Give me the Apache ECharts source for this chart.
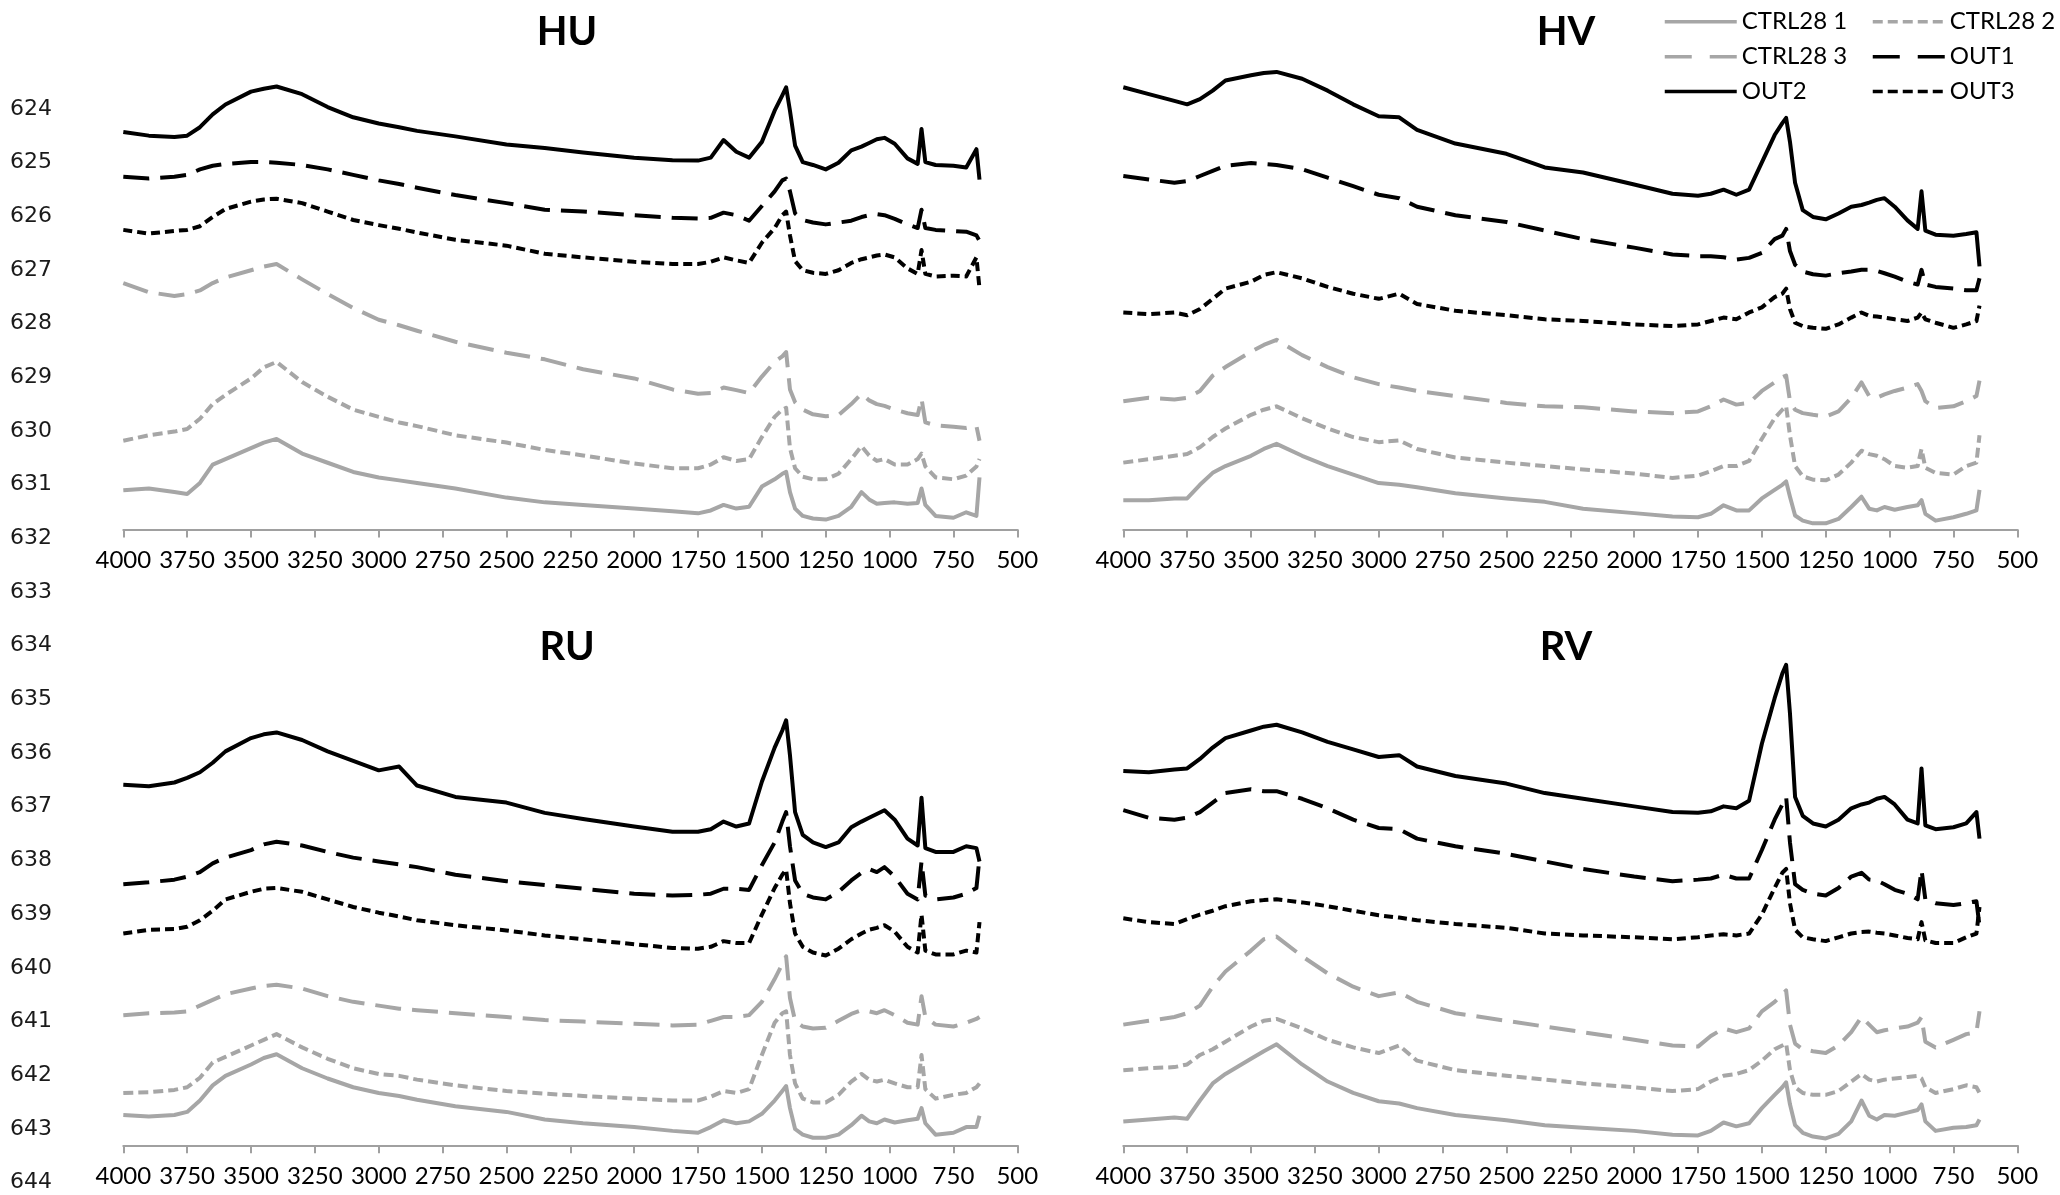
<!DOCTYPE html>
<html><head><meta charset="utf-8">
<script src="https://cdn.jsdelivr.net/npm/echarts@6/dist/echarts.min.js"></script>
<style>html,body{margin:0;padding:0;background:#fff}#c{width:2060px;height:1195px}</style>
</head><body><div id="c"></div>
<script>
// ---- data (absorbance, arbitrary offset units per panel) ----
const WAVENUMBERS = [4000,3900,3800,3750,3700,3650,3600,3500,3450,3400,3300,3200,3100,3000,2920,2850,2700,2500,2350,2200,2000,1850,1750,1700,1650,1600,1550,1500,1450,1420,1405,1390,1370,1340,1300,1250,1200,1150,1110,1080,1050,1020,980,930,890,875,860,820,750,700,660,648];
const X_MIN = 500, X_MAX = 4000, X_STEP = 250;
const ROW_LABELS = ['624','625','626','627','628','629','630','631','632','633','634','635','636','637','638','639','640','641','642','643','644'];
const PANEL_TITLES = ['HU','HV','RU','RV'];
const SERIES_NAMES = ['CTRL28 1','CTRL28 2','CTRL28 3','OUT1','OUT2','OUT3'];

const HU_CTRL28_1 = [1.07,1.12,1.02,0.97,1.27,1.77,1.92,2.22,2.37,2.47,2.07,1.82,1.57,1.42,1.34,1.27,1.12,0.87,0.74,0.67,0.57,0.50,0.44,0.52,0.67,0.57,0.62,1.17,1.37,1.52,1.57,1.02,0.57,0.37,0.30,0.27,0.37,0.62,1.02,0.82,0.70,0.72,0.74,0.70,0.72,1.12,0.67,0.37,0.32,0.47,0.37,1.42];
const HU_CTRL28_2 = [2.42,2.57,2.67,2.74,3.02,3.42,3.67,4.12,4.42,4.57,4.02,3.62,3.27,3.07,2.92,2.82,2.57,2.37,2.17,2.02,1.80,1.67,1.67,1.77,1.97,1.87,1.92,2.52,3.07,3.27,3.32,2.22,1.67,1.44,1.37,1.37,1.52,1.92,2.27,2.02,1.87,1.92,1.77,1.77,1.92,2.07,1.72,1.42,1.37,1.47,1.72,1.92];
const HU_CTRL28_3 = [6.72,6.47,6.37,6.42,6.52,6.72,6.87,7.07,7.17,7.24,6.82,6.42,6.04,5.72,5.57,5.42,5.12,4.82,4.64,4.37,4.12,3.82,3.70,3.72,3.87,3.80,3.72,4.17,4.57,4.72,4.84,3.82,3.47,3.27,3.14,3.09,3.12,3.42,3.70,3.52,3.42,3.37,3.27,3.17,3.12,3.57,2.92,2.84,2.80,2.77,2.82,2.42];
const HU_OUT1 = [9.62,9.57,9.62,9.67,9.82,9.92,9.97,10.02,10.02,10.00,9.94,9.82,9.67,9.52,9.42,9.32,9.12,8.90,8.72,8.67,8.57,8.50,8.48,8.50,8.64,8.57,8.42,8.82,9.22,9.52,9.57,9.22,8.62,8.44,8.37,8.32,8.37,8.42,8.52,8.57,8.60,8.57,8.47,8.32,8.22,8.72,8.22,8.17,8.14,8.12,8.02,7.87];
const HU_OUT2 = [10.84,10.74,10.70,10.74,10.97,11.32,11.59,11.94,12.02,12.08,11.87,11.52,11.24,11.07,10.97,10.87,10.72,10.50,10.40,10.28,10.14,10.07,10.06,10.14,10.62,10.30,10.14,10.57,11.42,11.84,12.06,11.42,10.47,10.02,9.94,9.82,10.00,10.34,10.44,10.54,10.64,10.68,10.52,10.12,9.97,10.92,10.02,9.94,9.92,9.87,10.37,9.54];
const HU_OUT3 = [8.17,8.07,8.14,8.17,8.27,8.52,8.74,8.94,9.00,9.02,8.90,8.67,8.44,8.30,8.20,8.10,7.90,7.74,7.52,7.42,7.30,7.24,7.24,7.30,7.42,7.34,7.27,7.82,8.22,8.57,8.67,8.02,7.32,7.07,7.00,6.97,7.07,7.27,7.37,7.42,7.47,7.50,7.42,7.12,6.97,7.62,6.97,6.90,6.92,6.90,7.42,6.57];

const HV_CTRL28_1 = [0.86,0.86,0.91,0.91,1.31,1.66,1.86,2.16,2.36,2.51,2.16,1.86,1.61,1.36,1.31,1.24,1.06,0.91,0.81,0.61,0.48,0.38,0.36,0.46,0.71,0.56,0.56,0.91,1.16,1.31,1.41,0.96,0.41,0.26,0.18,0.18,0.31,0.66,0.96,0.61,0.56,0.66,0.58,0.66,0.71,0.86,0.46,0.26,0.36,0.46,0.56,1.16];
const HV_CTRL28_2 = [1.96,2.06,2.16,2.21,2.41,2.71,2.96,3.36,3.51,3.61,3.26,2.96,2.71,2.56,2.61,2.36,2.11,1.96,1.86,1.76,1.64,1.51,1.58,1.71,1.86,1.86,2.01,2.66,3.26,3.51,3.61,2.76,1.86,1.56,1.46,1.44,1.61,1.96,2.31,2.21,2.16,2.06,1.86,1.81,1.86,2.36,1.81,1.66,1.61,1.86,1.96,2.76];
const HV_CTRL28_3 = [3.76,3.86,3.81,3.86,4.06,4.51,4.76,5.21,5.41,5.56,5.11,4.76,4.46,4.26,4.16,4.06,3.91,3.71,3.61,3.58,3.46,3.41,3.46,3.61,3.81,3.66,3.71,4.06,4.31,4.46,4.51,3.76,3.51,3.41,3.36,3.31,3.46,3.86,4.31,3.91,3.86,3.96,4.06,4.16,4.26,4.06,3.76,3.56,3.61,3.76,3.91,4.36];
const HV_OUT1 = [10.36,10.26,10.16,10.21,10.36,10.51,10.66,10.74,10.71,10.68,10.56,10.31,10.06,9.81,9.71,9.46,9.21,9.01,8.76,8.51,8.26,8.06,8.01,8.01,7.98,7.91,7.96,8.11,8.51,8.61,8.81,8.16,7.76,7.56,7.48,7.44,7.51,7.56,7.61,7.61,7.58,7.51,7.41,7.26,7.18,7.61,7.18,7.11,7.06,7.01,7.01,7.36];
const HV_OUT2 = [12.96,12.76,12.56,12.46,12.61,12.86,13.16,13.31,13.38,13.41,13.21,12.86,12.46,12.11,12.08,11.71,11.31,11.01,10.61,10.46,10.11,9.84,9.78,9.84,9.96,9.81,9.96,10.76,11.56,11.91,12.06,11.36,10.16,9.36,9.16,9.09,9.26,9.46,9.51,9.58,9.66,9.71,9.46,9.06,8.81,9.91,8.76,8.64,8.61,8.66,8.71,7.71];
const HV_OUT3 = [6.36,6.31,6.36,6.28,6.46,6.76,7.06,7.26,7.46,7.54,7.36,7.11,6.91,6.76,6.91,6.61,6.41,6.28,6.16,6.11,6.01,5.96,6.01,6.11,6.21,6.16,6.36,6.51,6.81,6.91,7.06,6.46,6.06,5.96,5.91,5.88,6.01,6.21,6.36,6.26,6.24,6.21,6.16,6.11,6.21,6.36,6.16,6.06,5.91,6.01,6.11,6.56];

const RU_CTRL28_1 = [0.80,0.76,0.80,0.88,1.18,1.58,1.83,2.13,2.30,2.40,2.03,1.76,1.53,1.38,1.30,1.20,1.03,0.88,0.68,0.58,0.48,0.38,0.33,0.48,0.66,0.58,0.63,0.83,1.18,1.43,1.56,0.98,0.43,0.28,0.20,0.20,0.28,0.53,0.78,0.63,0.58,0.68,0.60,0.66,0.70,0.98,0.58,0.28,0.33,0.48,0.48,0.78];
const RU_CTRL28_2 = [1.38,1.40,1.46,1.53,1.78,2.18,2.33,2.63,2.78,2.93,2.58,2.28,2.03,1.88,1.83,1.73,1.58,1.43,1.36,1.30,1.23,1.18,1.18,1.28,1.43,1.38,1.48,2.38,3.23,3.48,3.53,2.38,1.63,1.23,1.13,1.13,1.33,1.68,1.88,1.73,1.68,1.73,1.63,1.53,1.53,2.38,1.48,1.23,1.33,1.38,1.53,1.63];
const RU_CTRL28_3 = [3.43,3.48,3.50,3.53,3.68,3.83,3.98,4.13,4.20,4.23,4.13,3.93,3.78,3.68,3.60,3.56,3.48,3.38,3.30,3.26,3.20,3.16,3.18,3.28,3.38,3.38,3.43,3.78,4.38,4.78,4.98,3.88,3.28,3.13,3.08,3.10,3.28,3.46,3.56,3.53,3.48,3.56,3.43,3.23,3.18,3.93,3.38,3.18,3.13,3.23,3.33,3.38];
const RU_OUT1 = [6.88,6.93,7.00,7.08,7.20,7.43,7.58,7.78,7.93,8.00,7.90,7.73,7.58,7.48,7.40,7.33,7.13,6.96,6.86,6.76,6.63,6.58,6.60,6.63,6.76,6.76,6.73,7.38,7.98,8.53,8.78,7.88,6.98,6.63,6.53,6.48,6.68,6.98,7.18,7.28,7.20,7.33,7.08,6.63,6.48,7.48,6.58,6.48,6.53,6.63,6.78,7.58];
const RU_OUT2 = [9.50,9.46,9.56,9.68,9.83,10.08,10.38,10.73,10.83,10.88,10.68,10.38,10.13,9.88,9.98,9.48,9.18,9.03,8.76,8.60,8.40,8.26,8.26,8.33,8.53,8.40,8.48,9.58,10.48,10.93,11.20,10.28,8.78,8.18,7.98,7.86,7.98,8.38,8.53,8.63,8.73,8.83,8.58,8.08,7.90,9.16,7.83,7.73,7.73,7.88,7.83,7.48];
const RU_OUT3 = [5.58,5.68,5.70,5.76,5.93,6.18,6.48,6.68,6.76,6.78,6.68,6.48,6.28,6.13,6.03,5.93,5.80,5.66,5.53,5.43,5.30,5.20,5.18,5.23,5.38,5.33,5.33,6.08,6.78,7.13,7.26,6.38,5.58,5.23,5.08,5.00,5.18,5.43,5.58,5.68,5.73,5.80,5.63,5.23,5.08,6.08,5.13,5.03,5.03,5.13,5.08,5.88];

const RV_CTRL28_1 = [0.63,0.68,0.73,0.70,1.18,1.63,1.88,2.28,2.48,2.66,2.13,1.68,1.38,1.16,1.10,0.98,0.80,0.66,0.53,0.46,0.38,0.28,0.26,0.38,0.60,0.50,0.58,0.98,1.33,1.53,1.66,1.08,0.53,0.33,0.23,0.18,0.30,0.63,1.18,0.78,0.68,0.80,0.78,0.86,0.93,1.08,0.63,0.38,0.46,0.48,0.53,0.68];
const RV_CTRL28_2 = [1.98,2.03,2.06,2.13,2.38,2.53,2.73,3.13,3.28,3.33,3.08,2.78,2.58,2.43,2.63,2.23,1.98,1.83,1.73,1.63,1.53,1.43,1.48,1.68,1.83,1.88,1.98,2.23,2.53,2.63,2.68,1.98,1.53,1.38,1.33,1.33,1.43,1.68,1.88,1.73,1.68,1.73,1.76,1.80,1.83,1.76,1.53,1.38,1.48,1.58,1.53,1.38];
const RV_CTRL28_3 = [3.18,3.28,3.38,3.48,3.68,4.18,4.58,5.13,5.43,5.50,4.98,4.53,4.18,3.93,4.03,3.78,3.48,3.28,3.13,2.98,2.78,2.63,2.60,2.88,3.08,2.98,3.08,3.53,3.78,3.98,4.08,3.18,2.68,2.53,2.48,2.43,2.63,2.98,3.38,3.18,2.98,3.03,3.08,3.13,3.23,3.38,2.73,2.58,2.78,2.93,2.98,3.53];
const RV_OUT1 = [8.83,8.63,8.58,8.63,8.78,9.03,9.28,9.38,9.33,9.33,9.13,8.88,8.58,8.36,8.33,8.08,7.88,7.68,7.48,7.28,7.08,6.96,7.00,7.03,7.13,7.03,7.03,7.78,8.58,8.98,9.18,7.98,6.88,6.73,6.63,6.58,6.78,7.08,7.18,7.00,6.98,6.88,6.73,6.63,6.48,7.26,6.48,6.38,6.33,6.38,6.43,5.78];
const RV_OUT2 = [9.86,9.83,9.90,9.93,10.18,10.48,10.73,10.93,11.03,11.08,10.88,10.63,10.43,10.23,10.28,9.98,9.73,9.53,9.28,9.13,8.93,8.78,8.76,8.80,8.93,8.88,9.08,10.58,11.78,12.43,12.66,11.38,9.18,8.68,8.48,8.40,8.58,8.88,8.98,9.03,9.13,9.18,8.98,8.58,8.48,9.93,8.43,8.33,8.38,8.48,8.78,8.08];
const RV_OUT3 = [5.98,5.88,5.83,5.96,6.08,6.18,6.30,6.43,6.46,6.48,6.40,6.30,6.18,6.06,6.00,5.93,5.83,5.73,5.58,5.53,5.48,5.43,5.48,5.53,5.56,5.53,5.58,6.08,6.78,7.18,7.28,6.38,5.68,5.48,5.43,5.38,5.48,5.58,5.62,5.63,5.60,5.58,5.53,5.46,5.43,5.88,5.40,5.33,5.33,5.48,5.58,6.28];

const PANEL_DATA = [
  [HU_CTRL28_1, HU_CTRL28_2, HU_CTRL28_3, HU_OUT1, HU_OUT2, HU_OUT3],
  [HV_CTRL28_1, HV_CTRL28_2, HV_CTRL28_3, HV_OUT1, HV_OUT2, HV_OUT3],
  [RU_CTRL28_1, RU_CTRL28_2, RU_CTRL28_3, RU_OUT1, RU_OUT2, RU_OUT3],
  [RV_CTRL28_1, RV_CTRL28_2, RV_CTRL28_3, RV_OUT1, RV_OUT2, RV_OUT3]
];

// ---- layout & styles ----
const GRAY = '#a6a6a6', BLACK = '#000000', AXIS_GRAY = '#a0a0a0';
const LINE_W = 4;
const GRIDS = [
  {left: 123.3, top: 60.1, width: 894, height: 469.4, yMax: 12.8},
  {left: 1123.3, top: 58.6, width: 894, height: 470.9, yMax: 13.8},
  {left: 123.3, top: 689.9, width: 894, height: 455.4, yMax: 12.0},
  {left: 1123.3, top: 651.9, width: 894, height: 493.4, yMax: 13.0}
];
const TITLE_POS = [[567, 12.5], [1566, 12.5], [567, 627], [1566, 627]];
const LINE_STYLES = [
  {color: GRAY, type: 'solid', legendType: 'solid'},
  {color: GRAY, type: [10, 5], legendType: [10, 5]},
  {color: GRAY, type: [26, 11], legendType: [27, 18]},
  {color: BLACK, type: [26, 11], legendType: [27, 18]},
  {color: BLACK, type: 'solid', legendType: 'solid'},
  {color: BLACK, type: [9, 5], legendType: [10, 5]}
];
const LEGEND_POS = [[1663, 9.7], [1871, 9.7], [1663, 44.7], [1871, 44.7], [1663, 79.5], [1871, 79.5]];

const grid = [], xAxis = [], yAxis = [], series = [], title = [], legend = [];
GRIDS.forEach((g, p) => {
  grid.push({left: g.left, top: g.top, width: g.width, height: g.height, containLabel: false, outerBoundsMode: 'none'});
  xAxis.push({
    type: 'value', gridIndex: p, inverse: true, min: X_MIN, max: X_MAX, interval: X_STEP,
    axisLine: {show: true, lineStyle: {color: AXIS_GRAY, width: 2}},
    axisTick: {show: true, length: 8, lineStyle: {color: AXIS_GRAY, width: 2}},
    splitLine: {show: false},
    axisLabel: {color: '#000', fontFamily: 'Lato', fontSize: 24, margin: 19, formatter: v => String(v)}
  });
  yAxis.push({type: 'value', gridIndex: p, min: 0, max: g.yMax, show: false, splitLine: {show: false}});
  title.push({
    text: PANEL_TITLES[p], left: TITLE_POS[p][0], top: TITLE_POS[p][1], textAlign: 'center', padding: 0,
    textStyle: {fontFamily: 'Lato', fontWeight: 'bold', fontSize: 40, color: '#000'}
  });
  PANEL_DATA[p].forEach((vals, s) => {
    series.push({
      name: SERIES_NAMES[s], type: 'line', xAxisIndex: p, yAxisIndex: p,
      data: WAVENUMBERS.map((w, i) => [w, vals[i]]),
      symbol: 'none', showSymbol: false, smooth: false, animation: false, silent: true,
      itemStyle: {color: LINE_STYLES[s].color},
      lineStyle: {color: LINE_STYLES[s].color, width: LINE_W, type: LINE_STYLES[s].type, cap: 'butt', join: 'round'}
    });
  });
});
// row label column (left)
grid.push({left: 55, top: 109, width: 1, height: 1073.5, containLabel: false, outerBoundsMode: 'none'});
xAxis.push({type: 'value', gridIndex: 4, show: false});
yAxis.push({
  type: 'category', gridIndex: 4, data: ROW_LABELS, inverse: true, boundaryGap: false,
  axisLine: {show: false}, axisTick: {show: false}, splitLine: {show: false},
  axisLabel: {color: '#1a1a1a', fontFamily: 'DejaVu Sans', fontSize: 22, margin: 3, interval: 0}
});
SERIES_NAMES.forEach((n, s) => {
  legend.push({
    data: [n], left: LEGEND_POS[s][0], top: LEGEND_POS[s][1], padding: 0, orient: 'horizontal',
    itemWidth: 72, itemHeight: 14,
    itemStyle: {opacity: 0, color: 'transparent', borderWidth: 0},
    lineStyle: {color: LINE_STYLES[s].color, width: 3.5, type: LINE_STYLES[s].legendType, cap: 'butt'},
    textStyle: {fontFamily: 'Lato', fontSize: 24, color: '#000'}
  });
});

const chart = echarts.init(document.getElementById('c'), null, {renderer: 'canvas'});
chart.setOption({
  animation: false, backgroundColor: '#fff',
  textStyle: {fontFamily: 'Lato'},
  title, legend, grid, xAxis, yAxis, series
});
</script></body></html>
